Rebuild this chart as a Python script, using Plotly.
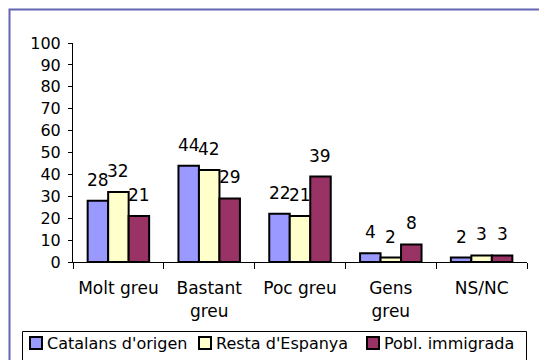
import plotly.graph_objects as go

# Survey answers per origin group (percent)
categories = ["Molt greu", "Bastant<br>greu", "Poc greu", "Gens<br>greu", "NS/NC"]
series_names = ["Catalans d'origen", "Resta d'Espanya", "Pobl. immigrada"]
catalans = [28, 44, 22, 4, 2]
resta = [32, 42, 21, 2, 3]
immigrada = [21, 29, 39, 8, 3]
y_ticks = [0, 10, 20, 30, 40, 50, 60, 70, 80, 90, 100]

series_values = [catalans, resta, immigrada]
colors = ["#9999FF", "#FFFFCC", "#993366"]

FONT = "DejaVu Sans"
W, H = 539, 360
M_L, M_R, M_T, M_B = 73, 12, 43, 98
PW, PH = W - M_L - M_R, H - M_T - M_B
BARGAP = 0.323


def px_x(p):
    return (p - M_L) / PW


def px_y(p):
    return 1 - (p - M_T) / PH


fig = go.Figure()
for name, vals, col in zip(series_names, series_values, colors):
    fig.add_trace(go.Bar(
        x=categories, y=vals, name=name,
        marker=dict(color=col, line=dict(color="black", width=2)),
        showlegend=False, hoverinfo="x+y+name",
    ))

# value labels above each bar
bar_w = (1 - BARGAP) / len(series_names)
annotations = []
for k, vals in enumerate(series_values):
    off = (k - (len(series_names) - 1) / 2) * bar_w
    for i, v in enumerate(vals):
        annotations.append(dict(
            x=i + off, y=v, xref="x", yref="y", text=str(v),
            showarrow=False, yanchor="middle", yshift=21,
            font=dict(family=FONT, size=17, color="black"),
        ))

# hand-drawn legend row along the bottom
shapes = []
legend_swatch_x = [30, 199, 367]
legend_text_x = [45, 214, 382]
legend_y = 343
for name, col, sx, tx in zip(series_names, colors, legend_swatch_x, legend_text_x):
    shapes.append(dict(
        type="rect", xref="paper", yref="paper",
        x0=px_x(sx), x1=px_x(sx + 12), y0=px_y(legend_y + 6), y1=px_y(legend_y - 6),
        fillcolor=col, line=dict(color="black", width=2), layer="above",
    ))
    annotations.append(dict(
        x=px_x(tx), y=px_y(legend_y), xref="paper", yref="paper",
        text=name, showarrow=False, xanchor="left", yanchor="middle",
        font=dict(family=FONT, size=16, color="black"),
    ))

# legend frame
shapes.append(dict(
    type="rect", xref="paper", yref="paper",
    x0=px_x(22.5), x1=px_x(526.5), y0=px_y(380), y1=px_y(331.5),
    line=dict(color="black", width=1), fillcolor="rgba(0,0,0,0)", layer="above",
))
# outer chart frame
shapes.append(dict(
    type="rect", xref="paper", yref="paper",
    x0=px_x(9.5), x1=px_x(560), y0=px_y(380), y1=px_y(9.5),
    line=dict(color="#6464B4", width=2), fillcolor="rgba(0,0,0,0)", layer="above",
))

fig.update_layout(
    width=W, height=H,
    margin=dict(l=M_L, r=M_R, t=M_T, b=M_B),
    paper_bgcolor="white", plot_bgcolor="white",
    barmode="group", bargap=BARGAP, bargroupgap=0,
    font=dict(family=FONT, size=16, color="black"),
    showlegend=False,
    annotations=annotations, shapes=shapes,
    xaxis=dict(
        type="category", showline=True, linecolor="black", linewidth=1,
        ticks="outside", tickson="boundaries", ticklen=6, tickcolor="black",
        showgrid=False, zeroline=False,
        tickfont=dict(family=FONT, size=17, color="black"),
        ticklabelstandoff=11,
    ),
    yaxis=dict(
        range=[0, 100], tickvals=y_ticks, showline=True, linecolor="black",
        linewidth=1, ticks="outside", ticklen=4, tickcolor="black",
        showgrid=False, zeroline=False,
        tickfont=dict(family=FONT, size=16, color="black"),
        ticklabelstandoff=4,
    ),
)

fig.write_html("out.html")
